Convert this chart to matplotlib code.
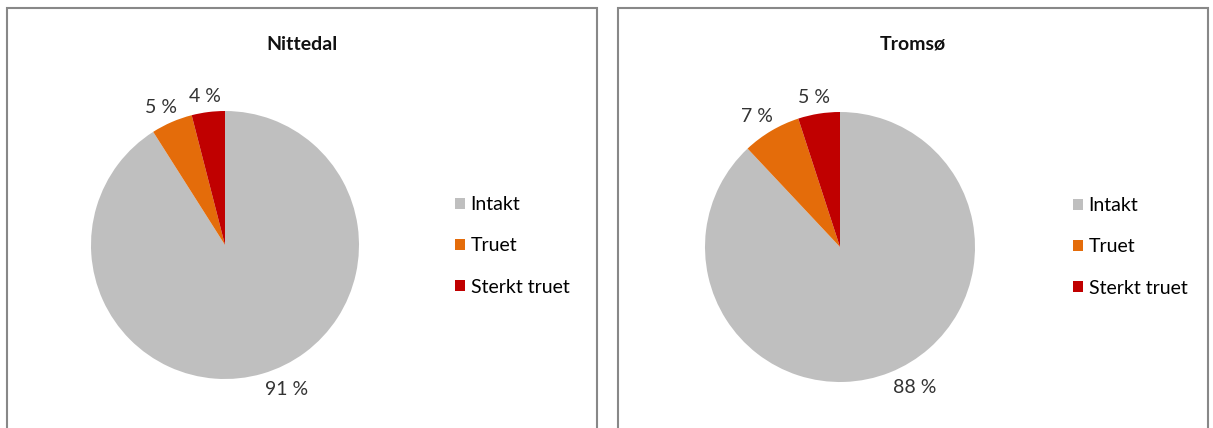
import matplotlib.pyplot as plt
from matplotlib.patches import Rectangle

plt.rcParams['font.family'] = ['Lato', 'DejaVu Sans']

categories = ["Intakt", "Truet", "Sterkt truet"]
nittedal = [91, 5, 4]
tromso = [88, 7, 5]
colors = ["#BFBFBF", "#E46C0A", "#C00000"]

W, H = 1213, 428
fig = plt.figure(figsize=(W / 100, H / 100), dpi=100)


def px(x, y, w=0, h=0):
    # pixel box (top-left origin) -> figure fraction
    return [x / W, 1 - (y + h) / H, w / W, h / H]


def panel(x0, x1, title, values, cx, cy, r, leg_x, leg_y):
    # chart frame, bottom edge runs past the figure
    fig.patches.append(Rectangle((x0 / W, -0.05), (x1 - x0) / W, 1.05 - 8 / H,
                                 transform=fig.transFigure, fill=False,
                                 edgecolor="#888888", linewidth=1.5))
    fig.text((x0 + x1) / 2 / W, 1 - 44 / H, title, ha="center", va="center",
             fontsize=14, fontweight="bold", color="#111111")
    ax = fig.add_axes(px(cx - r, cy - r, 2 * r, 2 * r))
    wedges, texts = ax.pie(values, colors=colors, startangle=90, counterclock=False,
                           labels=[f"{v} %" for v in values], labeldistance=1.12,
                           textprops=dict(fontsize=14, color="#333333"))
    for v, t in zip(values, texts):
        x, y = t.get_position()
        if v < 50:
            t.set_ha("center")
            t.set_position((x * 1.08, y))
        else:
            t.set_position((x * 0.95, y))
    ax.set_xlim(-1, 1)
    ax.set_ylim(-1, 1)
    fig.legend(wedges, categories, loc="upper left",
               bbox_to_anchor=(leg_x / W, 1 - leg_y / H), frameon=False,
               fontsize=14, handlelength=0.5, handleheight=0.5, handletextpad=0.3,
               labelspacing=1.25, borderpad=0, borderaxespad=0)


panel(7, 597, "Nittedal", nittedal, 225, 245, 134, 455, 196)
panel(618, 1208, "Tromsø", tromso, 840, 247, 135, 1073, 197)

fig.savefig("out.png", dpi=100)
